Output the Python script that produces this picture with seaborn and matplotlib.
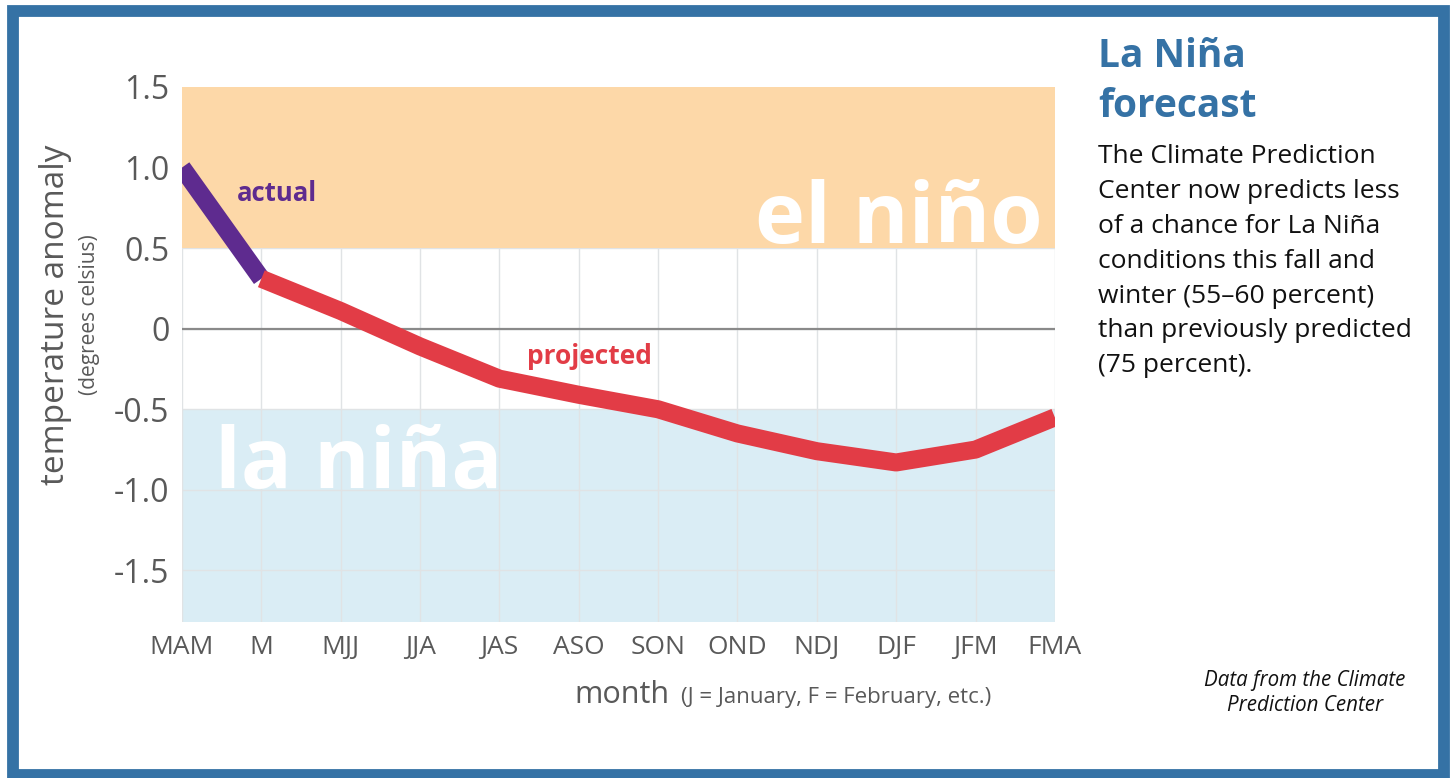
import pandas as pd
import matplotlib.pyplot as plt
import seaborn as sns
from matplotlib.patches import Rectangle

# data
months = ['MAM', 'M', 'MJJ', 'JJA', 'JAS', 'ASO', 'SON', 'OND', 'NDJ', 'DJF', 'JFM', 'FMA']
actual_months = ['MAM', 'M']
actual_values = [1.0, 0.31]
projected_months = ['M', 'MJJ', 'JJA', 'JAS', 'ASO', 'SON', 'OND', 'NDJ', 'DJF', 'JFM', 'FMA']
projected_values = [0.31, 0.11, -0.11, -0.31, -0.41, -0.5, -0.65, -0.76, -0.83, -0.75, -0.55]
y_ticks = [1.5, 1.0, 0.5, 0, -0.5, -1.0, -1.5]
y_tick_labels = ['1.5', '1.0', '0.5', '0', '-0.5', '-1.0', '-1.5']

df = pd.concat([
    pd.DataFrame({'month': actual_months, 'anomaly': actual_values, 'series': 'actual'}),
    pd.DataFrame({'month': projected_months, 'anomaly': projected_values, 'series': 'projected'}),
])
df['pos'] = df['month'].map({m: i for i, m in enumerate(months)})

sns.set_theme(style='white')
plt.rcParams['font.family'] = ['Open Sans', 'DejaVu Sans']

PURPLE = '#5E2B8F'
RED = '#E23C46'
BLUE = '#3572A5'
GREY = '#595959'

fig = plt.figure(figsize=(14.5, 7.78), dpi=100)
ax = fig.add_axes([0.1255, 0.2005, 0.602, 0.6877])

# background bands
ax.axhspan(0.5, 1.5, color='#FDD8A8', zorder=1, lw=0)
ax.axhspan(-1.9, -0.5, color='#DAEDF5', zorder=0.2, lw=0)
ax.set_axisbelow(True)
ax.grid(True, color='#E0E3E5', lw=1)
ax.axhline(0, color='#8A8A8A', lw=1.6, zorder=2)

sns.lineplot(data=df, x='pos', y='anomaly', hue='series',
             palette={'actual': PURPLE, 'projected': RED},
             linewidth=13, sort=False, legend=False, ax=ax,
             solid_capstyle='butt', zorder=3)

ax.set_xlim(0, 11)
ax.set_ylim(-1.82, 1.5)
ax.set_xticks(range(len(months)))
ax.set_xticklabels(months)
ax.set_yticks(y_ticks)
ax.set_yticklabels(y_tick_labels)
ax.tick_params(axis='x', length=0, pad=9, labelsize=19, labelcolor=GREY)
ax.tick_params(axis='y', length=0, pad=9, labelsize=23, labelcolor=GREY)
ax.set_xlabel('')
ax.set_ylabel('')
for s in ax.spines.values():
    s.set_visible(False)

# labels inside the plot
ax.text(10.85, 0.53, 'el niño', color='white', fontsize=61, fontweight='bold',
        ha='right', va='baseline', zorder=2)
ax.text(0.42, -0.99, 'la niña', color='white', fontsize=61, fontweight='bold',
        ha='left', va='baseline', zorder=2)
ax.text(0.69, 0.795, 'actual', color=PURPLE, fontsize=18.5, fontweight='bold',
        ha='left', va='baseline', zorder=4)
ax.text(4.35, -0.217, 'projected', color=RED, fontsize=19, fontweight='bold',
        ha='left', va='baseline', zorder=4)

# axis titles
fig.text(0.038, 0.595, 'temperature anomaly', rotation=90, ha='center', va='center',
         fontsize=24, color=GREY)
fig.text(0.062, 0.595, '(degrees celsius)', rotation=90, ha='center', va='center',
         fontsize=15, color=GREY)
fig.text(574 / 1450, 1 - 703 / 778, 'month', ha='left', va='baseline',
         fontsize=22, color=GREY)
fig.text(681 / 1450, 1 - 703 / 778, '(J = January, F = February, etc.)', ha='left',
         va='baseline', fontsize=16, color=GREY)

# side panel
fig.text(1098 / 1450, 1 - 37 / 778, 'La Niña\nforecast', ha='left', va='top',
         fontsize=28, fontweight='bold', color=BLUE, linespacing=1.36)
fig.text(1098 / 1450, 1 - 144 / 778,
         'The Climate Prediction\nCenter now predicts less\nof a chance for La Niña\n'
         'conditions this fall and\nwinter (55\u201360 percent)\nthan previously predicted\n(75 percent).',
         ha='left', va='top', fontsize=19, color='#111111', linespacing=1.52)
fig.text(1305 / 1450, 1 - 693 / 778, 'Data from the Climate\nPrediction Center',
         ha='center', va='center', fontsize=14.8, style='italic', color='#111111',
         linespacing=1.25)

# outer frame
fig.patches.append(Rectangle((13 / 1450, 3 / 778), 1431 / 1450, 1 - 13.5 / 778,
                             transform=fig.transFigure, fill=False,
                             edgecolor=BLUE, lw=8.5, zorder=10))

fig.savefig('out.png', dpi=100)
